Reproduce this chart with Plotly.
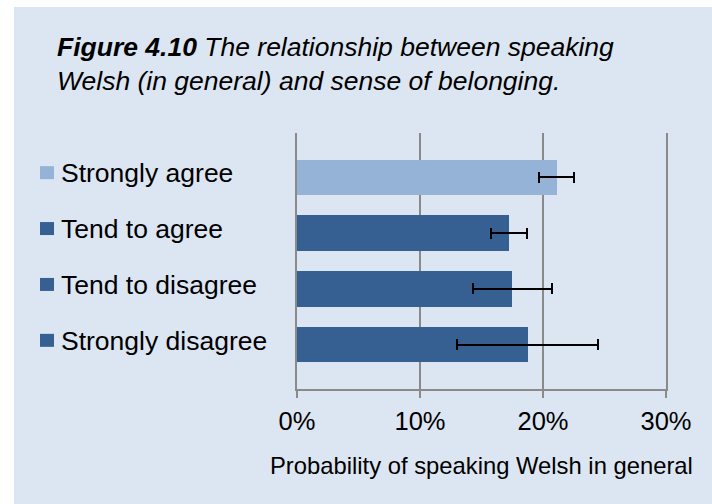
import plotly.graph_objects as go

categories = ["Strongly agree", "Tend to agree", "Tend to disagree", "Strongly disagree"]
probability = [0.211, 0.172, 0.175, 0.188]
ci_low = [0.197, 0.158, 0.143, 0.130]
ci_high = [0.225, 0.187, 0.207, 0.245]
bar_colors = ["#95b3d7", "#366092", "#366092", "#366092"]
x_ticks = [0, 0.1, 0.2, 0.3]
x_tick_labels = ["0%", "10%", "20%", "30%"]

FONT = "Liberation Sans, Arial, sans-serif"
BG = "#dce6f2"
GRID = "#8a8a8a"

pos = list(range(len(categories)))
err_plus = [h - v for h, v in zip(ci_high, probability)]
err_minus = [v - l for l, v in zip(ci_low, probability)]

fig = go.Figure()
fig.add_trace(go.Bar(
    x=probability, y=pos, orientation="h",
    marker=dict(color=bar_colors, line=dict(width=0)),
    width=0.63,
    error_x=dict(type="data", symmetric=False, array=err_plus, arrayminus=err_minus,
                 color="black", thickness=2, width=5.5),
    showlegend=False, hoverinfo="x+y",
))

L, R, T, B = 297, 46, 133, 115
W, H = 712, 504
pw, ph = W - L - R, H - T - B

shapes = [dict(type="rect", xref="paper", yref="paper", layer="below",
               x0=(14 - L) / pw, x1=(W - L + 5) / pw,
               y0=-(B + 5) / ph, y1=(H - B - 7) / ph,
               fillcolor=BG, line=dict(width=0))]

annotations = []
for i, (cat, col) in enumerate(zip(categories, bar_colors)):
    shapes.append(dict(type="rect", xref="paper", yref="y",
                       xsizemode="pixel", ysizemode="pixel",
                       xanchor=0, yanchor=i,
                       x0=-257, x1=-243, y0=-2, y1=11,
                       fillcolor=col, line=dict(width=0)))
    annotations.append(dict(xref="paper", yref="y", x=0, y=i, xshift=-238, yshift=4,
                            xanchor="left", yanchor="middle", text=cat, showarrow=False,
                            font=dict(family=FONT, size=26.5, color="black")))

annotations.append(dict(xref="paper", yref="paper", x=0, y=(H - B - 30) / ph,
                        xshift=55 - L, xanchor="left", yanchor="top", align="left",
                        showarrow=False,
                        text="<b><i>Figure 4.10</i></b><i> The relationship between speaking<br>"
                             "Welsh (in general) and sense of belonging.</i>",
                        font=dict(family=FONT, size=26.5, color="black")))
annotations.append(dict(xref="paper", yref="paper", x=0.5, y=-(465 - (H - B)) / ph,
                        xanchor="center", yanchor="middle", showarrow=False,
                        text="Probability of speaking Welsh in general",
                        font=dict(family=FONT, size=23.8, color="black")))

fig.update_layout(
    width=W, height=H,
    margin=dict(l=L, r=R, t=T, b=B, pad=0),
    paper_bgcolor="white", plot_bgcolor="white",
    font=dict(family=FONT, size=25, color="black"),
    shapes=shapes, annotations=annotations,
    xaxis=dict(range=[0, 0.3], tickvals=x_ticks, ticktext=x_tick_labels,
               showgrid=True, gridcolor=GRID, gridwidth=1.5,
               zeroline=False, showline=True, linecolor=GRID, linewidth=1.5,
               ticks="outside", ticklen=7, tickcolor=GRID, tickwidth=1.5,
               ticklabelstandoff=2,
               tickfont=dict(family=FONT, size=25.5, color="black"), fixedrange=True),
    yaxis=dict(range=[3.79, -0.79], showticklabels=False, showgrid=False,
               zeroline=False, showline=True, mirror=True, linecolor=GRID,
               linewidth=1.5, fixedrange=True),
    bargap=0,
)

fig.write_html("out.html", config={"displayModeBar": False},
               post_script="document.body.style.margin='0';")
